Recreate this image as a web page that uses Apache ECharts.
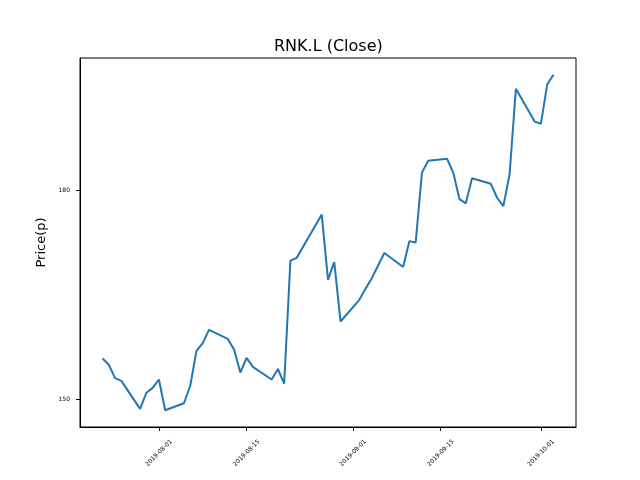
<!DOCTYPE html>
<html lang="en">
<head>
    <meta charset="UTF-8">
    <title>RNK.L (Close)</title>
    <script src="https://cdn.jsdelivr.net/npm/echarts@6/dist/echarts.min.js"></script>
</head>
<body style="margin:0">
<div id="main" style="width:640px;height:480px;background:#fff"></div>
<script>
    // closing prices
    const dates = [
        '2019-07-23', '2019-07-24', '2019-07-25', '2019-07-26', '2019-07-29',
        '2019-07-30', '2019-07-31', '2019-08-01', '2019-08-02', '2019-08-05',
        '2019-08-06', '2019-08-07', '2019-08-08', '2019-08-09', '2019-08-12',
        '2019-08-13', '2019-08-14', '2019-08-15', '2019-08-16', '2019-08-19',
        '2019-08-20', '2019-08-21', '2019-08-22', '2019-08-23', '2019-08-27',
        '2019-08-28', '2019-08-29', '2019-08-30', '2019-09-02', '2019-09-03',
        '2019-09-04', '2019-09-05', '2019-09-06', '2019-09-09', '2019-09-10',
        '2019-09-11', '2019-09-12', '2019-09-13', '2019-09-16', '2019-09-17',
        '2019-09-18', '2019-09-19', '2019-09-20', '2019-09-23', '2019-09-24',
        '2019-09-25', '2019-09-26', '2019-09-27', '2019-09-30', '2019-10-01',
        '2019-10-02', '2019-10-03'
    ]
    const closes = [
        155.9, 155.0, 153.1, 152.7, 148.7,
        151.0, 151.7, 152.9, 148.5, 149.5,
        152.0, 157.0, 158.1, 160.0, 158.7,
        157.2, 153.9, 156.0, 154.7, 152.9,
        154.4, 152.3, 169.9, 170.3, 176.5,
        167.2, 169.7, 161.2, 164.3, 165.9,
        167.4, 169.2, 171.0, 169.0, 172.7,
        172.5, 182.5, 184.2, 184.5, 182.5,
        178.7, 178.1, 181.7, 180.9, 178.9,
        177.7, 182.3, 194.5, 189.8, 189.5,
        195.1, 196.5
    ]
    const xTicks = ['2019-08-01', '2019-08-15', '2019-09-01', '2019-09-15', '2019-10-01']
    const yTicks = [150, 180]

    const ts = s => new Date(s + 'T00:00:00Z').getTime()
    const pad2 = n => (n < 10 ? '0' : '') + n
    const fmt = v => {
        let d = new Date(v)
        return d.getUTCFullYear() + '-' + pad2(d.getUTCMonth() + 1) + '-' + pad2(d.getUTCDate())
    }

    // matplotlib-like 5% margins
    let x0 = ts(dates[0]), x1 = ts(dates[dates.length - 1])
    let xPad = (x1 - x0) * 0.05
    let lo = Math.min(...closes), hi = Math.max(...closes)
    let yPad = (hi - lo) * 0.05

    let chart = echarts.init(document.getElementById('main'), null, {renderer: 'canvas'})
    chart.setOption({
        animation: false,
        backgroundColor: '#fff',
        title: {
            text: 'RNK.L (Close)',
            left: 269,
            top: 34,
            textStyle: {
                fontFamily: 'DejaVu Sans',
                fontSize: 16,
                fontWeight: 'normal',
                color: '#000'
            }
        },
        grid: {
            left: 80,
            right: 64,
            top: 58,
            bottom: 53,
            show: true,
            borderColor: '#000',
            borderWidth: 1,
            containLabel: false
        },
        xAxis: {
            type: 'value',
            min: x0 - xPad,
            max: x1 + xPad,
            splitLine: {show: false},
            axisLine: {lineStyle: {color: '#000', width: 1}},
            axisTick: {
                show: true,
                length: 4,
                lineStyle: {color: '#000'},
                customValues: xTicks.map(ts)
            },
            axisLabel: {
                customValues: xTicks.map(ts),
                formatter: v => fmt(v),
                rotate: 45,
                align: 'center',
                verticalAlign: 'middle',
                margin: 26,
                fontFamily: 'DejaVu Sans',
                fontSize: 6,
                color: '#000'
            }
        },
        yAxis: {
            type: 'value',
            min: lo - yPad,
            max: hi + yPad,
            name: 'Price(p)',
            nameLocation: 'middle',
            nameGap: 27,
            nameTextStyle: {
                fontFamily: 'DejaVu Sans',
                fontSize: 13,
                color: '#000'
            },
            splitLine: {show: false},
            axisLine: {show: true, lineStyle: {color: '#000', width: 1}},
            axisTick: {
                show: true,
                length: 4,
                lineStyle: {color: '#000'},
                customValues: yTicks
            },
            axisLabel: {
                customValues: yTicks,
                margin: 10,
                fontFamily: 'DejaVu Sans',
                fontSize: 6,
                color: '#000'
            }
        },
        series: [{
            type: 'line',
            data: dates.map((d, i) => [ts(d), closes[i]]),
            showSymbol: false,
            lineStyle: {color: '#1f77b4', width: 2}
        }]
    })
</script>
</body>
</html>
